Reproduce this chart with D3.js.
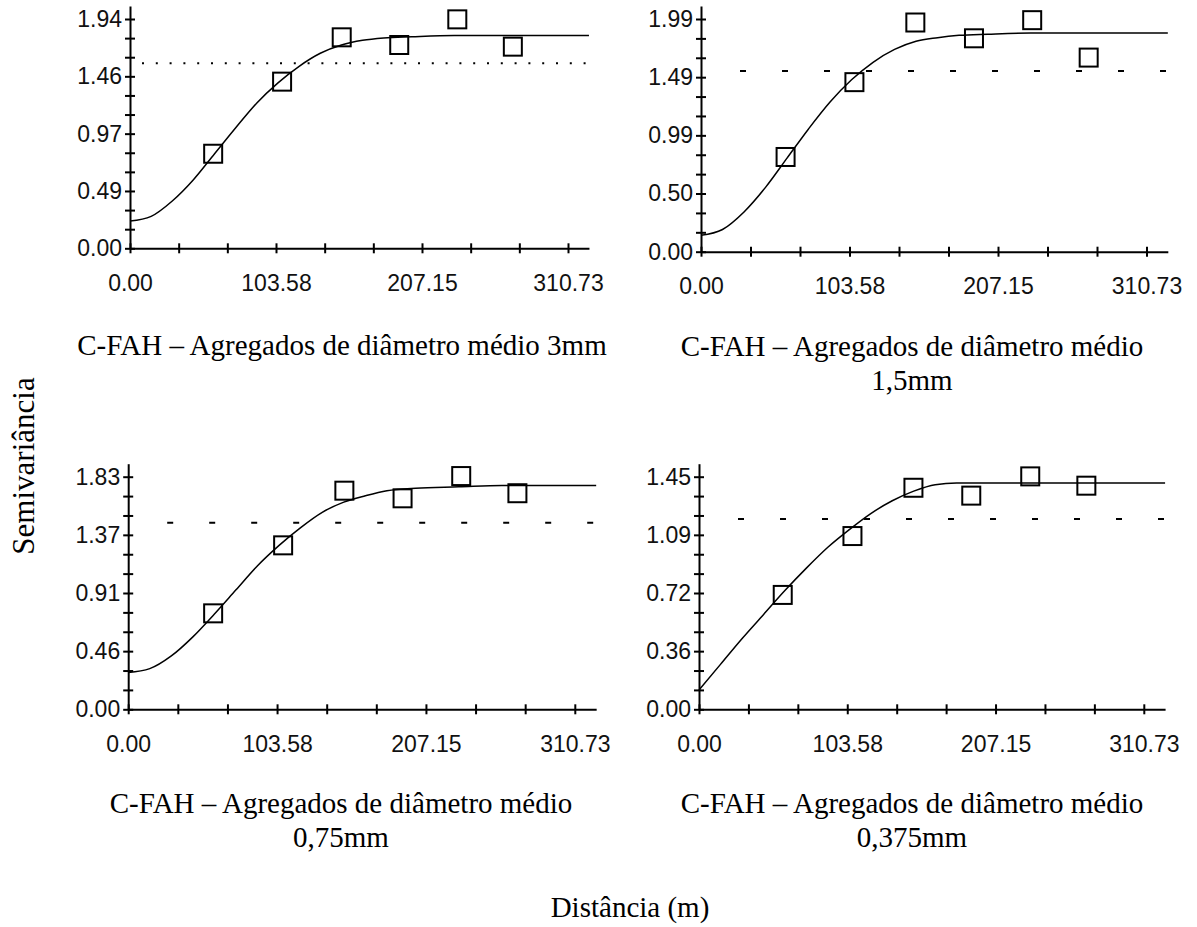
<!DOCTYPE html>
<html>
<head>
<meta charset="utf-8">
<script src="https://cdn.jsdelivr.net/npm/d3@7"></script>
<style>
  body { margin: 0; background: #fff; }
  .tick text { font-family: "Liberation Sans", Arial, sans-serif; font-size: 23px; fill: #111; }
  .caption { font-family: "Liberation Serif", "Times New Roman", serif; font-size: 29px; fill: #000; }
</style>
</head>
<body>
<svg width="1197" height="927"></svg>
<script>
// x axis (distance) ticks, shared by all panels
var xTickLabels = ["0.00", "103.58", "207.15", "310.73"];
var xLabelMax = 310.73;
var xAxisEnd = 325.6;

// sampled distances for the fitted model curves
var curveDist = [0, 15, 30, 45, 60, 75, 90, 105, 120, 135, 150, 165, 180, 200, 230, 260, 290, 325.6];

// panel 1 - 3mm
var yLabelsP1 = ["0.00", "0.49", "0.97", "1.46", "1.94"];
var lagP1 = [59.0, 107.9, 150.2, 191.0, 232.2, 271.6];
var gammaP1 = [0.80, 1.41, 1.785, 1.72, 1.937, 1.706];
var curveP1 = [0.23, 0.27, 0.40, 0.58, 0.80, 1.02, 1.23, 1.40, 1.54, 1.65, 1.72, 1.76, 1.78, 1.79, 1.80, 1.80, 1.80, 1.80];
var varP1 = 1.565;

// panel 2 - 1,5mm
var yLabelsP2 = ["0.00", "0.50", "0.99", "1.49", "1.99"];
var lagP2 = [59.0, 107.0, 149.5, 190.4, 231.0, 270.4];
var gammaP2 = [0.81, 1.45, 1.96, 1.825, 1.98, 1.66];
var curveP2 = [0.14, 0.19, 0.34, 0.55, 0.80, 1.05, 1.28, 1.47, 1.62, 1.73, 1.80, 1.83, 1.85, 1.86, 1.87, 1.87, 1.87, 1.87];
var varP2 = 1.545;

// panel 3 - 0,75mm
var yLabelsP3 = ["0.00", "0.46", "0.91", "1.37", "1.83"];
var lagP3 = [59.1, 107.8, 150.4, 190.9, 231.7, 270.8];
var gammaP3 = [0.755, 1.29, 1.72, 1.66, 1.835, 1.70];
var curveP3 = [0.29, 0.32, 0.42, 0.57, 0.75, 0.94, 1.13, 1.29, 1.43, 1.55, 1.63, 1.68, 1.72, 1.74, 1.75, 1.76, 1.76, 1.76];
var varP3 = 1.468;

// panel 4 - 0,375mm
var yLabelsP4 = ["0.00", "0.36", "0.72", "1.09", "1.45"];
var lagP4 = [58.5, 107.2, 149.8, 190.2, 231.4, 270.6];
var gammaP4 = [0.713, 1.08, 1.381, 1.332, 1.452, 1.394];
var curveP4 = [0.12, 0.28, 0.44, 0.59, 0.74, 0.88, 1.01, 1.12, 1.22, 1.30, 1.36, 1.40, 1.41, 1.41, 1.41, 1.41, 1.41, 1.41];
var varP4 = 1.186;

var captions = [
    ["C-FAH \u2013 Agregados de di\u00e2metro m\u00e9dio 3mm"],
    ["C-FAH \u2013 Agregados de di\u00e2metro m\u00e9dio", "1,5mm"],
    ["C-FAH \u2013 Agregados de di\u00e2metro m\u00e9dio", "0,75mm"],
    ["C-FAH \u2013 Agregados de di\u00e2metro m\u00e9dio", "0,375mm"]
];

var svg = d3.select("svg");

// panel placement: left = x of distance 0, top = y of top label, w/h = pixel size of labelled range
var panels = [
    {left: 130, top: 19, w: 438, h: 229.3, yLabels: yLabelsP1, lag: lagP1, gamma: gammaP1, curve: curveP1, ref: varP1, dotted: true,
     capX: 342, capY: 355},
    {left: 701, top: 19, w: 445.5, h: 232.7, yLabels: yLabelsP2, lag: lagP2, gamma: gammaP2, curve: curveP2, ref: varP2, dotted: false,
     capX: 912, capY: 356},
    {left: 128.2, top: 476.7, w: 446.6, h: 232.6, yLabels: yLabelsP3, lag: lagP3, gamma: gammaP3, curve: curveP3, ref: varP3, dotted: false,
     capX: 341, capY: 813},
    {left: 699, top: 476.7, w: 444.8, h: 232.6, yLabels: yLabelsP4, lag: lagP4, gamma: gammaP4, curve: curveP4, ref: varP4, dotted: false,
     capX: 912, capY: 813}
];

panels.forEach(function(p, idx) {
    var yMax = +p.yLabels[p.yLabels.length - 1];
    var topPad = 13;

    var x = d3.scaleLinear()
        .domain([0, xAxisEnd])
        .range([0, p.w * xAxisEnd / xLabelMax]);
    var y = d3.scaleLinear()
        .domain([0, yMax * (1 + topPad / p.h)])
        .range([p.h, -topPad]);

    var g = svg.append("g")
        .attr("transform", "translate(" + p.left + "," + p.top + ")");

    // x axis: 10 ticks, every third labelled
    var xTicks = d3.range(10).map(function(i) { return xLabelMax * i / 9; });
    var xAxis = d3.axisBottom(x)
        .tickValues(xTicks)
        .tickSize(5)
        .tickSizeOuter(0)
        .tickPadding(21)
        .tickFormat(function(d, i) { return i % 3 === 0 ? xTickLabels[i / 3] : ""; });
    var gx = g.append("g")
        .attr("transform", "translate(0," + p.h + ")")
        .call(xAxis);
    gx.selectAll(".tick line").attr("y1", -5).attr("stroke-width", 2);
    gx.select(".domain").attr("stroke-width", 2);

    // y axis: 13 ticks, every third labelled
    var yTicks = d3.range(13).map(function(i) { return yMax * i / 12; });
    var yAxis = d3.axisLeft(y)
        .tickValues(yTicks)
        .tickSize(5)
        .tickSizeOuter(0)
        .tickPadding(3)
        .tickFormat(function(d, i) { return i % 3 === 0 ? p.yLabels[i / 3] : ""; });
    var gy = g.append("g").call(yAxis);
    gy.selectAll(".tick line").attr("x1", 5).attr("stroke-width", 2);
    gy.select(".domain").attr("stroke-width", 2);

    // reference (sample variance) line
    g.append("line")
        .attr("x1", p.dotted ? 12 : 39)
        .attr("x2", x(xAxisEnd))
        .attr("y1", y(p.ref))
        .attr("y2", y(p.ref))
        .attr("stroke", "#000")
        .attr("stroke-width", 2)
        .attr("stroke-dasharray", p.dotted ? "2,11.8" : "6,36");

    // fitted model curve
    var line = d3.line()
        .x(function(d, i) { return x(curveDist[i]); })
        .y(function(d) { return y(d); })
        .curve(d3.curveMonotoneX);
    g.append("path")
        .datum(p.curve)
        .attr("d", line)
        .attr("fill", "none")
        .attr("stroke", "#000")
        .attr("stroke-width", 1.5);

    // experimental semivariance points
    var s = 18;
    g.selectAll("rect.pt")
        .data(p.gamma)
        .enter().append("rect")
        .attr("class", "pt")
        .attr("x", function(d, i) { return x(p.lag[i]) - s / 2; })
        .attr("y", function(d) { return y(d) - s / 2; })
        .attr("width", s)
        .attr("height", s)
        .attr("fill", "none")
        .attr("stroke", "#000")
        .attr("stroke-width", 2);

    // caption
    var cap = svg.append("text")
        .attr("class", "caption")
        .attr("text-anchor", "middle")
        .attr("x", p.capX)
        .attr("y", p.capY);
    captions[idx].forEach(function(t, k) {
        cap.append("tspan")
            .attr("x", p.capX)
            .attr("dy", k === 0 ? 0 : 34)
            .text(t);
    });
});

// shared axis titles
svg.append("text")
    .attr("class", "caption")
    .attr("text-anchor", "middle")
    .attr("transform", "translate(34,466) rotate(-90)")
    .style("font-size", "31px")
    .text("Semivari\u00e2ncia");

svg.append("text")
    .attr("class", "caption")
    .attr("text-anchor", "middle")
    .attr("x", 630)
    .attr("y", 917)
    .text("Dist\u00e2ncia (m)");
</script>
</body>
</html>
